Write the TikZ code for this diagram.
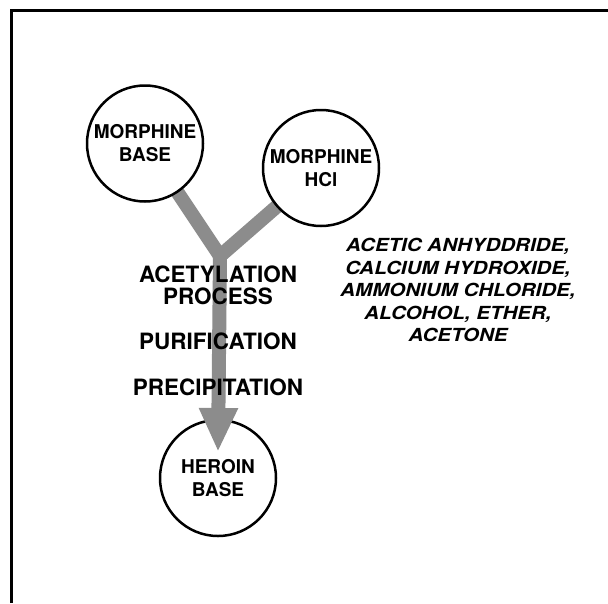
\documentclass[tikz,border=0pt]{standalone}
\usepackage{fontspec}
\setmainfont{TeX Gyre Heros}
\newfontfamily\reagentfont[FakeStretch=1.14]{TeX Gyre Heros}
\usepackage{xcolor}
\definecolor{flowDots}{HTML}{8C8C8C}
\usetikzlibrary{arrows.meta,backgrounds}
\tikzset{
  stage/.style={circle, draw, line width=2.5pt, minimum size=116pt, inner sep=0pt,
    fill=white, align=center, font=\bfseries\fontsize{19}{23}\selectfont},
  flow/.style={draw=flowDots, line width=14pt},
  stepname/.style={align=center, font=\bfseries\fontsize{22.5}{22}\selectfont},
  reagents/.style={align=center, font=\reagentfont\bfseries\itshape\fontsize{18}{22.5}\selectfont}
}

\begin{document}
\begin{tikzpicture}[x=1pt, y=-1pt]
  \useasboundingbox (0,0) rectangle (608,603);
  \draw[line width=3pt] (11.5,603) -- (11.5,10) -- (608,10);
  \node[stage] (MB) at (145,143.5) {MORPHINE\\BASE};
  \node[stage] (MH) at (321,168) {MORPHINE\\HCl};
  \node[stage] (HB) at (218,478) {HEROIN\\BASE};
  \coordinate (J) at (220,256);
  \coordinate (T) at (218,452);
  \begin{pgfonlayer}{background}
    \draw[flow, line cap=round] (MB.center) -- (J);
    \draw[flow, line cap=round] (MH.center) -- (J);
  \end{pgfonlayer}
  \draw[flow, -{Triangle[width=36pt, length=44pt]}] (J) -- (T);
  \node[stepname] (acet) at (218,285) {ACETYLATION\\PROCESS};
  \node[stepname] (puri) at (218,341) {PURIFICATION};
  \node[stepname] (prec) at (218,387) {PRECIPITATION};
  \node[reagents] (chem) at (458,290) {ACETIC ANHYDDRIDE,\\CALCIUM HYDROXIDE,\\AMMONIUM CHLORIDE,\\ALCOHOL, ETHER,\\ACETONE};
\end{tikzpicture}
\end{document}
